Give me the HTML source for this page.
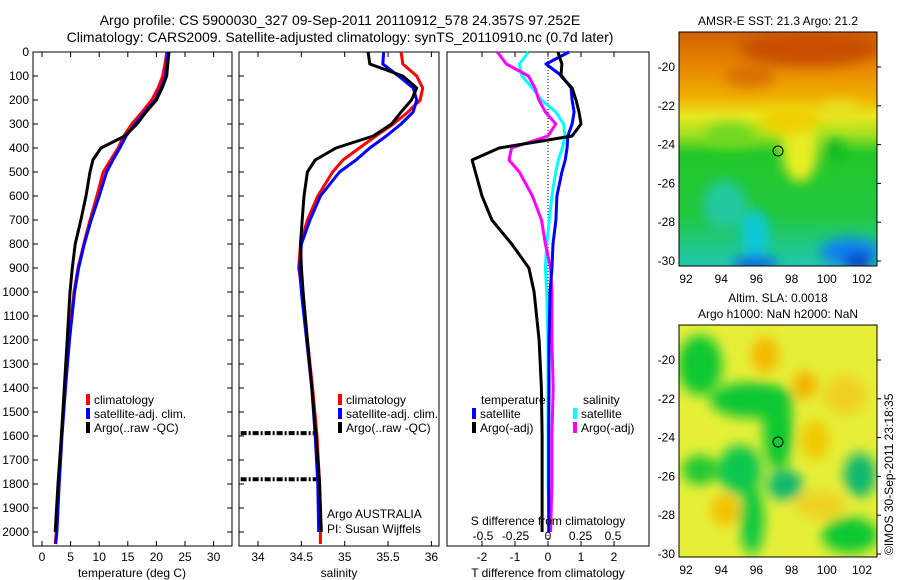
<!DOCTYPE html>
<html><head><meta charset="utf-8"><style>
body{margin:0;background:#fff;width:900px;height:580px;overflow:hidden}
svg{display:block;font-family:"Liberation Sans",sans-serif}
text{font-size:12px;fill:#000}
</style></head><body>
<svg id="c" width="900" height="580" viewBox="0 0 900 580">
<defs>
<filter id="bl" x="-20%" y="-20%" width="140%" height="140%"><feGaussianBlur stdDeviation="6"/></filter>
<clipPath id="m1"><rect x="679" y="32" width="198" height="234"/></clipPath>
<clipPath id="m2"><rect x="679" y="325" width="198" height="232"/></clipPath>
<linearGradient id="g1" x1="0" y1="0" x2="0" y2="1">
<stop offset="0" stop-color="#d06000"/><stop offset="0.15" stop-color="#e88800"/><stop offset="0.28" stop-color="#f0b000"/><stop offset="0.36" stop-color="#e8e820"/><stop offset="0.44" stop-color="#a0e020"/><stop offset="0.52" stop-color="#22c828"/><stop offset="0.78" stop-color="#22c840"/><stop offset="1" stop-color="#20c8b0"/>
</linearGradient>
</defs>
<g>
<text x="340" y="25" text-anchor="middle" style="font-size:14px">Argo profile: CS 5900030_327 09-Sep-2011 20110912_578 24.357S 97.252E</text>
<text x="340" y="42" text-anchor="middle" style="font-size:14px">Climatology: CARS2009. Satellite-adjusted climatology: synTS_20110910.nc (0.7d later)</text>
</g>
<g id="plots"></g>
<g>
<text x="778" y="25" text-anchor="middle">AMSR-E SST: 21.3 Argo: 21.2</text>
<g clip-path="url(#m1)">
<rect x="679" y="32" width="198" height="234" fill="url(#g1)"/>
<g filter="url(#bl)">
<ellipse cx="800" cy="150" rx="18" ry="32" fill="#e8ee20"/>
<ellipse cx="790" cy="120" rx="30" ry="15" fill="#f0d000"/>
<ellipse cx="840" cy="110" rx="20" ry="10" fill="#e8e020"/>
<ellipse cx="730" cy="135" rx="25" ry="12" fill="#70d820"/>
<ellipse cx="725" cy="205" rx="22" ry="25" fill="#20c8a0"/>
<ellipse cx="755" cy="235" rx="14" ry="25" fill="#10c8d8"/>
<ellipse cx="755" cy="264" rx="22" ry="8" fill="#1060e0"/>
<ellipse cx="850" cy="252" rx="30" ry="14" fill="#1080f0"/>
<ellipse cx="858" cy="262" rx="14" ry="8" fill="#1030c0"/>
<ellipse cx="835" cy="150" rx="10" ry="10" fill="#10b828"/>
<ellipse cx="810" cy="48" rx="70" ry="18" fill="#c85000"/>
<ellipse cx="750" cy="75" rx="25" ry="12" fill="#d87000"/>
</g>
</g>
<rect x="679" y="32" width="198" height="234" fill="none" stroke="#000"/>
<circle cx="778" cy="151" r="5" fill="none" stroke="#000"/>
</g>
<g>
<text x="778" y="302" text-anchor="middle">Altim. SLA: 0.0018</text>
<text x="778" y="318" text-anchor="middle">Argo h1000: NaN h2000: NaN</text>
<g clip-path="url(#m2)">
<rect x="679" y="325" width="198" height="232" fill="#e6ef38"/>
<g filter="url(#bl)">
<ellipse cx="700" cy="365" rx="22" ry="30" fill="#10c830"/>
<ellipse cx="752" cy="400" rx="42" ry="18" fill="#10c830"/>
<ellipse cx="778" cy="430" rx="15" ry="40" fill="#10c830"/>
<ellipse cx="740" cy="470" rx="22" ry="25" fill="#10c850"/>
<ellipse cx="752" cy="520" rx="12" ry="35" fill="#10c840"/>
<ellipse cx="785" cy="485" rx="18" ry="15" fill="#10b870"/>
<ellipse cx="700" cy="470" rx="18" ry="15" fill="#20c830"/>
<ellipse cx="860" cy="475" rx="16" ry="22" fill="#10b870"/>
<ellipse cx="850" cy="535" rx="28" ry="18" fill="#10c830"/>
<ellipse cx="765" cy="355" rx="14" ry="18" fill="#f5b800"/>
<ellipse cx="805" cy="385" rx="12" ry="14" fill="#f5b000"/>
<ellipse cx="725" cy="510" rx="14" ry="16" fill="#f5c000"/>
<ellipse cx="815" cy="440" rx="14" ry="20" fill="#f0c800"/>
<ellipse cx="845" cy="395" rx="22" ry="20" fill="#f0d020"/>
<ellipse cx="820" cy="505" rx="25" ry="14" fill="#f0d020"/>
</g>
</g>
<rect x="679" y="325" width="198" height="232" fill="none" stroke="#000"/>
<circle cx="778" cy="442" r="5" fill="none" stroke="#000"/>
</g>
<text transform="translate(893,555) rotate(-90)">©IMOS 30-Sep-2011 23:18:35</text>
</svg>
<script>
const depths=[0,50,100,150,200,250,300,350,400,450,500,600,700,800,900,1000,1200,1400,1600,1800,2000,2050];
const tClim=[21.8,21.5,21.1,20.3,19.2,17.5,15.7,14.3,13.3,12,10.7,9.6,8.4,7.3,6.3,5.6,4.7,4.0,3.4,2.9,2.5,2.3];
const tSat=[22,21.8,21.6,20.8,19.8,18,16.3,14.7,13.6,12.4,11.3,10,8.6,7.4,6.4,5.7,4.8,4.1,3.5,3.0,2.6,2.4];
const tArgo=[22.2,22,21.8,21,20,18.2,16.6,14.5,10.3,8.9,8.4,7.7,6.8,5.8,5.3,4.9,4.4,3.9,3.4,2.8,2.3,null];
const sClim=[35.65,35.67,35.83,35.9,35.87,35.73,35.56,35.36,35.17,34.98,34.86,34.69,34.57,34.49,34.47,34.51,34.57,34.63,34.68,34.71,34.72,34.72];
const sSat=[35.45,35.44,35.62,35.79,35.83,35.79,35.65,35.48,35.29,35.13,34.94,34.72,34.6,34.5,34.48,34.5,34.56,34.62,34.66,34.69,34.7,null];
const sArgo=[35.27,35.29,35.67,35.83,35.77,35.65,35.54,35.33,34.9,34.66,34.57,34.53,34.51,34.49,34.5,34.52,34.57,34.62,34.67,34.71,34.73,null];
const spikeDepths=[1588,1780];
const spikeS=[33.8,33.8];
const dtSat=[0.64,-0.06,0.42,0.7,0.73,0.79,0.73,0.6,0.58,0.52,0.42,0.27,0.24,0.15,0.12,0.06,0.03,0.03,0.02,0.02,0.02,null];
const dtArgo=[0.3,0.42,0.39,0.73,0.85,0.94,1.0,0.73,-1.48,-2.3,-2.2,-2.0,-1.7,-1.1,-0.58,-0.42,-0.27,-0.2,-0.18,-0.18,-0.18,null];
const dsSat=[-0.15,-0.22,-0.2,-0.12,-0.05,0.06,0.12,0.13,0.11,0.08,0.06,0.03,0.01,-0.01,-0.02,-0.01,0,0,0,0,0.01,null];
const dsArgo=[-0.39,-0.32,-0.15,-0.1,-0.07,-0.02,0.06,0.0,-0.28,-0.3,-0.22,-0.12,-0.05,-0.02,0.02,0.03,0.03,0.04,0.03,0.03,0.02,null];
const depthTicks=[0,100,200,300,400,500,600,700,800,900,1000,1100,1200,1300,1400,1500,1600,1700,1800,1900,2000];
const tTicks=[0,5,10,15,20,25,30];
const sTicks=[34,34.5,35,35.5,36];
const sTickLabels=["34","34.5","35","35.5","36"];
const dtTicks=[-2,-1,0,1,2];
const dsTicks=[-0.5,-0.25,0,0.25,0.5];
const dsTickLabels=["-0.5","-0.25","0","0.25","0.5"];
const lonTicks=[92,94,96,98,100,102];
const latTicks=[-20,-22,-24,-26,-28,-30];

const NS="http://www.w3.org/2000/svg";
const root=document.getElementById('plots');
function mk(tag,at,parent){const e=document.createElementNS(NS,tag);for(const k in at)e.setAttribute(k,at[k]);(parent||root).appendChild(e);return e;}
const yD=d=>52+d*0.24;
const xT=v=>42+v*5.72;
const xS=v=>258+(v-34)*86.7;
const xDT=v=>548+v*33;
const xDS=v=>548+v*130;
const TOP=52,BOT=546;

function frame(x0,x1,name){
  const r=mk('rect',{x:x0,y:TOP,width:x1-x0,height:BOT-TOP,fill:'none',stroke:'#000'});
  
  
}
function xticks(arr,labels,fx,name,ylab){
  const g=mk('g',{});
  
  
  arr.forEach((v,i)=>{
    const x=fx(v);
    mk('line',{x1:x,x2:x,y1:TOP,y2:TOP+5,stroke:'#000'},g);
    mk('line',{x1:x,x2:x,y1:BOT,y2:BOT-5,stroke:'#000'},g);
    const t=mk('text',{x:x,y:ylab,'text-anchor':'middle'},g);t.textContent=labels[i];
  });
}
function line(xs,fx,col,w,name,dash){
  let d='';let pen=false;
  xs.forEach((v,i)=>{
    if(v===null||v===undefined){pen=false;return;}
    d+=(pen?'L':'M')+fx(v).toFixed(1)+','+yD(depths[i]).toFixed(1);pen=true;
  });
  const p=mk('path',{d:d,fill:'none',stroke:col,'stroke-width':w,'stroke-linejoin':'round'});
  if(dash)p.setAttribute('stroke-dasharray',dash);
  
  
}
function label(x,y,s,name,anchor){
  const t=mk('text',{x:x,y:y,'text-anchor':anchor||'start'});t.textContent=s;
  
  
}
function legend(x,y,col,s,name){
  const r=mk('rect',{x:x,y:y-10,width:4,height:11,fill:col});
  
  
  label(x+8,y,s,name);
}

frame(33,232,'temperature-panel');
const yg=mk('g',{});


depthTicks.forEach(d=>{
  const y=yD(d);
  mk('line',{x1:33,x2:38,y1:y,y2:y,stroke:'#000'},yg);
  mk('line',{x1:232,x2:227,y1:y,y2:y,stroke:'#000'},yg);
  mk('line',{x1:239,x2:244,y1:y,y2:y,stroke:'#000'},yg);
  const t=mk('text',{x:29,y:y+4,'text-anchor':'end'},yg);t.textContent=d;
});
xticks(tTicks,tTicks.map(String),xT,'temperature-x-axis',561);
label(132,577,'temperature (deg C)','temperature-axis-title','middle');
line(tClim,xT,'#ff0000',3,'temp-climatology');
line(tSat,xT,'#0000ff',3,'temp-satellite-adj');
line(tArgo,xT,'#000',3,'temp-argo');
legend(86,404,'#ff0000','climatology','legend-climatology');
legend(86,418,'#0000ff','satellite-adj. clim.','legend-satellite');
legend(86,432,'#000','Argo(..raw -QC)','legend-argo');

frame(239,439,'salinity-panel');
xticks(sTicks,sTickLabels,xS,'salinity-x-axis',561);
label(339,577,'salinity','salinity-axis-title','middle');
spikeDepths.forEach((d,i)=>{
  const l=mk('line',{x1:xS(spikeS[i]),x2:xS(sArgo[18]),y1:yD(d),y2:yD(d),stroke:'#000','stroke-width':4,'stroke-dasharray':'6,2,2,2'});
  
  
});
line(sClim,xS,'#ff0000',3,'sal-climatology');
line(sSat,xS,'#0000ff',3,'sal-satellite-adj');
line(sArgo,xS,'#000',3,'sal-argo');
legend(338,404,'#ff0000','climatology','legend-climatology-2');
legend(338,418,'#0000ff','satellite-adj. clim.','legend-satellite-2');
legend(338,432,'#000','Argo(..raw -QC)','legend-argo-2');
label(327,518,'Argo AUSTRALIA','argo-agency');
label(327,533,'PI: Susan Wijffels','pi-name');

frame(447,649,'difference-panel');
xticks(dtTicks,dtTicks.map(String),xDT,'t-diff-x-axis',561);
const dz=mk('line',{x1:548,x2:548,y1:TOP,y2:BOT,stroke:'#000','stroke-dasharray':'1,2'});


label(548,577,'T difference from climatology','t-diff-axis-title','middle');
line(dsSat,xDS,'#00ffff',3,'sdiff-satellite');
line(dsArgo,xDS,'#ff00ff',3,'sdiff-argo');
line(dtSat,xDT,'#0000ff',3,'tdiff-satellite');
line(dtArgo,xDT,'#000',3,'tdiff-argo');
const sg=mk('g',{});


dsTicks.forEach((v,i)=>{const t=mk('text',{x:xDS(v),y:540,'text-anchor':'middle'},sg);t.textContent=dsTickLabels[i];});
label(548,525,'S difference from climatology','s-diff-axis-title','middle');
label(481,404,'temperature','legend-temperature-heading');
label(583,404,'salinity','legend-salinity-heading');
legend(472,418,'#0000ff','satellite','legend-t-satellite');
legend(472,432,'#000','Argo(-adj)','legend-t-argo');
legend(573,418,'#00ffff','satellite','legend-s-satellite');
legend(573,432,'#ff00ff','Argo(-adj)','legend-s-argo');

function mapAxes(y0,y1,name){
  const g=mk('g',{});
  
  
  lonTicks.forEach(v=>{const x=686+(v-92)*17.6;mk('line',{x1:x,x2:x,y1:y1,y2:y1-4,stroke:'#000'},g);mk('line',{x1:x,x2:x,y1:y0,y2:y0+4,stroke:'#000'},g);const t=mk('text',{x:x,y:y1+17,'text-anchor':'middle'},g);t.textContent=v;});
  latTicks.forEach(v=>{const y=y0+35+(-20-v)*19.4;mk('line',{x1:877,x2:881,y1:y,y2:y,stroke:'#000'},g);mk('line',{x1:679,x2:683,y1:y,y2:y,stroke:'#000'},g);const t=mk('text',{x:675,y:y+4,'text-anchor':'end'},g);t.textContent=v;});
}
mapAxes(32,266,'sst-map-axes');
mapAxes(325,557,'sla-map-axes');
</script>
</body></html>
